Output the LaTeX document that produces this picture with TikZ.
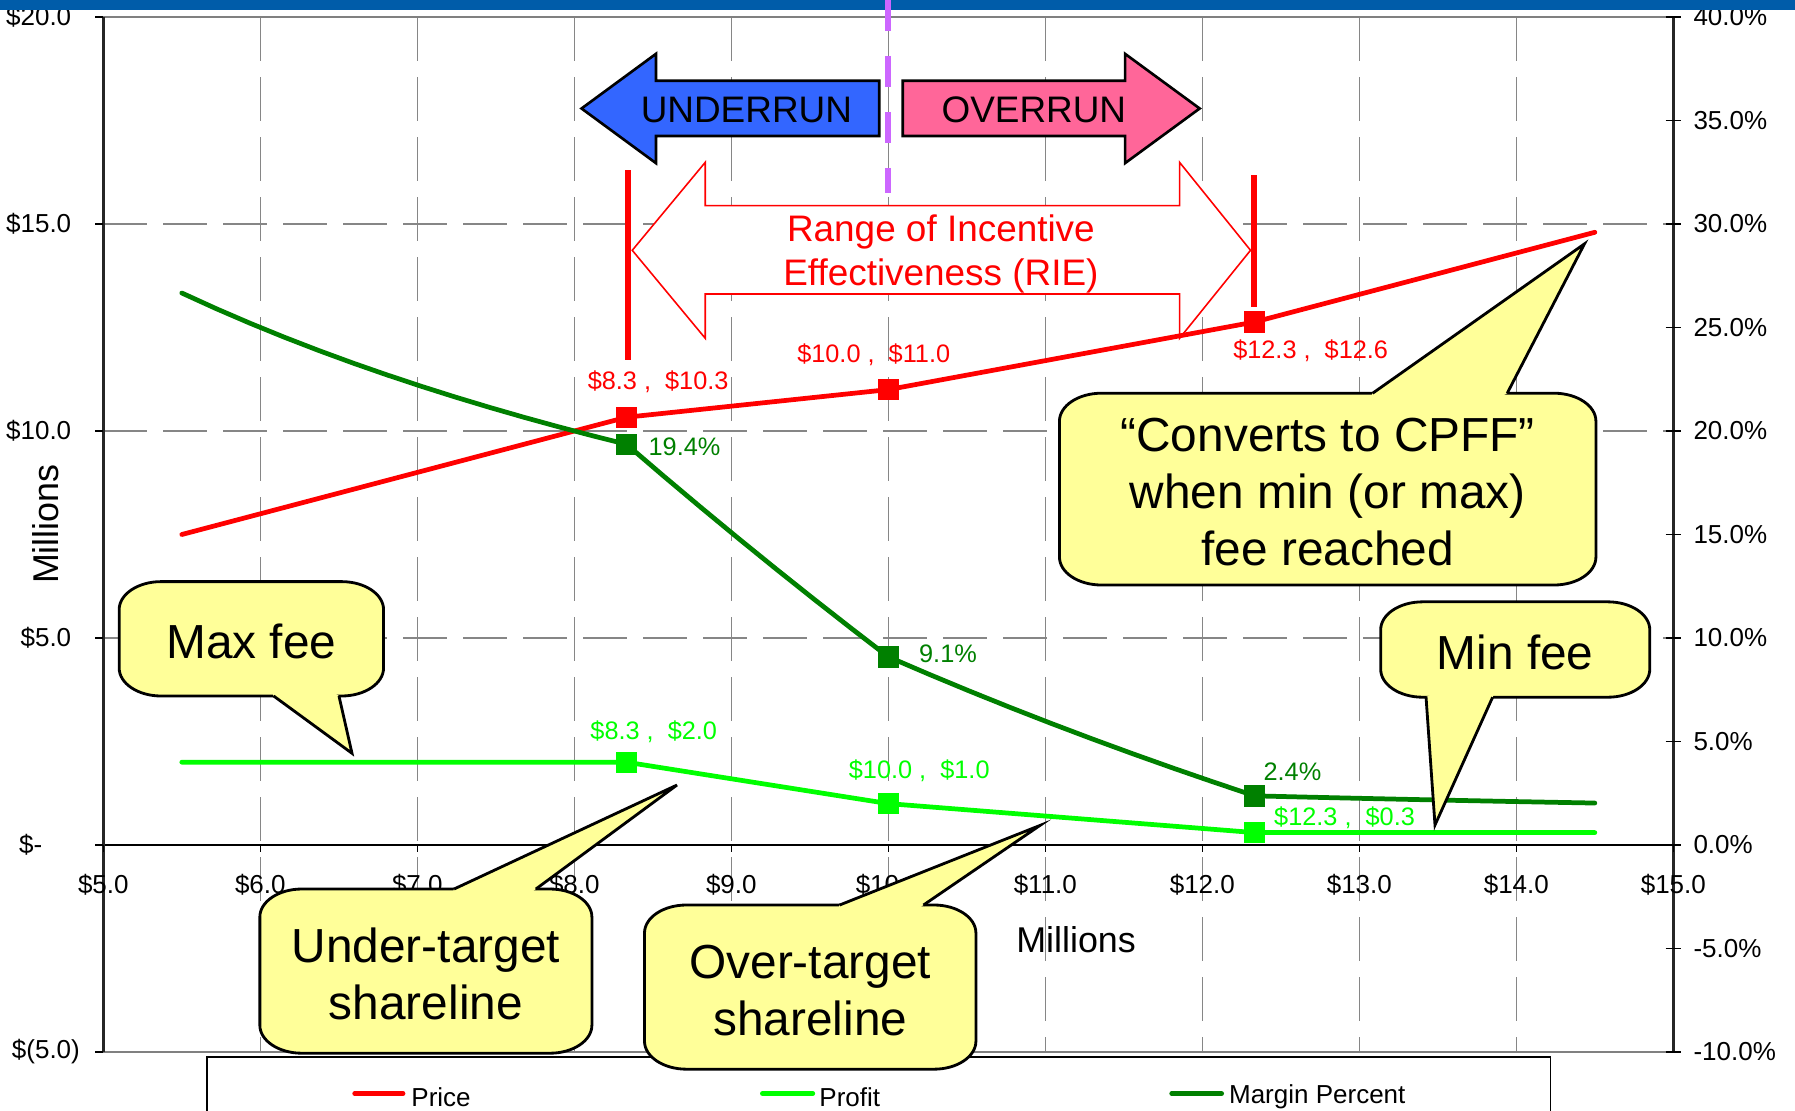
\documentclass[tikz,border=0pt]{standalone}
\usepackage{fontspec}
\setmainfont{Liberation Sans}
\usepackage{tikz}
\usetikzlibrary{calc, positioning}
\definecolor{pricered}{RGB}{255,0,0}
\definecolor{profitgreen}{RGB}{0,255,0}
\definecolor{margingreen}{RGB}{0,128,0}
\definecolor{gridgray}{RGB}{134,134,134}
\definecolor{underblue}{RGB}{51,102,255}
\definecolor{overpink}{RGB}{255,102,153}
\definecolor{bubblefill}{RGB}{255,255,153}
\definecolor{splitviolet}{RGB}{204,102,255}
\definecolor{barblue}{RGB}{0,92,169}
\newcommand{\fsz}[2]{\fontsize{#1}{#2}\selectfont}
% yellow callout: #1 sw, #2 ne, #3/#4 pointer base, #5 pointer tip
\newcommand{\bubble}[5]{%
  \coordinate (bc) at ($(#1)!0.5!(#2)$);
  \filldraw[fill=bubblefill, draw=black, line width=0.8pt]
    ($(#1)+(0.42cm,0)$) -- ($(#2|-#1)+(-0.42cm,0)$)
    arc[start angle=-90, end angle=0, x radius=0.42cm, y radius=0.28cm]
    -- ($(#2)+(0,-0.28cm)$)
    arc[start angle=0, end angle=90, x radius=0.42cm, y radius=0.28cm]
    -- ($(#1|-#2)+(0.42cm,0)$)
    arc[start angle=90, end angle=180, x radius=0.42cm, y radius=0.28cm]
    -- ($(#1)+(0,0.28cm)$)
    arc[start angle=180, end angle=270, x radius=0.42cm, y radius=0.28cm]
    -- cycle;
  \fill[bubblefill] (#3) -- (#5) -- (#4) -- ($(#4)!0.07cm!(bc)$) -- ($(#3)!0.07cm!(bc)$) -- cycle;
  \draw[black, line width=0.8pt, line join=miter] (#3) -- (#5) -- (#4);
}

\begin{document}
\begin{tikzpicture}[x=1.57cm, y=0.414cm,
    grid/.style={gridgray, line width=0.35pt, dash pattern=on 0.44cm off 0.16cm},
    ticklbl/.style={font=\fsz{7.4}{9}, inner sep=0pt},
    datalbl/.style={font=\fsz{7.2}{8.5}, inner sep=0pt},
    series/.style={line width=1.35pt, line join=round, line cap=round},
    datapt/.style={rectangle, inner sep=0pt, minimum size=0.2cm},
    bubbletext/.style={font=\fsz{13.6}{16.2}, align=center, inner sep=0pt, yshift=-0.03cm},
    arrowtext/.style={font=\fsz{10.5}{12.4}, align=center, inner sep=0pt}]
  \useasboundingbox (4.342,-6.401) rectangle (15.775,20.411);
  % grid
  \foreach \u in {6,...,14}
    \draw[grid] (\u,20) -- (\u,-5);
  \foreach \v in {5,10,15}
    \draw[grid] (5,\v) -- (15,\v);
  % frame and axes
  \draw[gray, line width=0.75pt] (5,20) -- (15,20);
  \draw[gray, line width=0.75pt] (5,-5) -- (15,-5);
  \draw[black, line width=0.4pt] (5,0) -- (15,0);
  \draw[black!85, line width=0.75pt] (5,20) -- (5,-5);
  \draw[black!85, line width=0.75pt] (15,20) -- (15,-5);
  \foreach \v in {-5,0,...,20}
    \draw[black, line width=0.4pt] (5,\v) -- ++(-0.083cm,0);
  \foreach \v in {-5,-2.5,...,20}
    \draw[black, line width=0.4pt] (15,\v) ++(-0.077cm,0) -- ++(0.15cm,0);
  \foreach \u in {5,...,15}
    \draw[black, line width=0.4pt] (\u,0) -- ++(0,-0.073cm);
  % tick labels
  \foreach \v/\t in {20/{\$20.0}, 15/{\$15.0}, 10/{\$10.0}, 5/{\$5.0}, 0/{\$-\phantom{00}}, -5/{\$(5.0\rlap{)}}}
    \node[ticklbl, anchor=east] (yl\v) at (4.80,\v) {\t};
  \foreach \v/\t in {20/40.0, 17.5/35.0, 15/30.0, 12.5/25.0, 10/20.0, 7.5/15.0, 5/10.0, 2.5/5.0, 0/0.0, -2.5/-5.0, -5/-10.0}
    \node[ticklbl, anchor=west] (pl\v) at (15.124,\v) {\t\%};
  \foreach \u in {5,...,15}
    \node[ticklbl] (xl\u) at (\u,-0.97) {\$\u.0};
  \node[font=\fsz{10.2}{12}, rotate=90] (ytitle) at (4.634,7.75) {Millions};
  \node[font=\fsz{10.2}{12}] (xtitle) at (11.196,-2.29) {Millions};
  % range of incentive effectiveness
  \filldraw[fill=white, draw=pricered, line width=0.45pt]
    (8.369,14.365) -- (8.834,16.49) -- (8.834,15.442) -- (11.855,15.442) -- (11.855,16.49)
    -- (12.307,14.365) -- (11.855,12.239) -- (11.855,13.309) -- (8.834,13.309) -- (8.834,12.239) -- cycle;
  \node[arrowtext, text=pricered] (rie) at (10.335,14.27) {Range of Incentive\\Effectiveness (RIE)};
  \draw[pricered, line width=1.6pt] (8.342,16.30) -- (8.342,11.715);
  \draw[pricered, line width=1.6pt] (12.33,16.18) -- (12.33,12.99);
  % underrun / overrun
  \filldraw[fill=underblue, draw=black, line width=0.75pt]
    (8.046,17.79) -- (8.520,19.11) -- (8.520,18.46) -- (9.942,18.46) -- (9.942,17.126)
    -- (8.520,17.126) -- (8.520,16.47) -- cycle;
  \filldraw[fill=overpink, draw=black, line width=0.75pt]
    (11.983,17.79) -- (11.508,19.11) -- (11.508,18.46) -- (10.092,18.46) -- (10.092,17.126)
    -- (11.508,17.126) -- (11.508,16.47) -- cycle;
  \node[arrowtext] (under) at (9.096,17.75) {UNDERRUN};
  \node[arrowtext] (over) at (10.927,17.75) {OVERRUN};
  % price
  \coordinate (pr0) at (5.5,7.5);
  \coordinate (pr4) at (14.5,14.8);
  \node[datapt] (pr1) at (8.333,10.333) {};
  \node[datapt] (pr2) at (10,11) {};
  \node[datapt] (pr3) at (12.333,12.633) {};
  \draw[series, pricered] (pr0) -- (pr1.center) -- (pr2.center) -- (pr3.center) -- (pr4);
  % profit
  \coordinate (pf0) at (5.5,2);
  \coordinate (pf4) at (14.5,0.3);
  \node[datapt] (pf1) at (8.333,2) {};
  \node[datapt] (pf2) at (10,1) {};
  \node[datapt] (pf3) at (12.333,0.3) {};
  \draw[series, profitgreen] (pf0) -- (pf1.center) -- (pf2.center) -- (pf3.center) -- (pf4);
  % margin percent = fee / price
  \node[datapt] (mg1) at (8.333,9.677) {};
  \node[datapt] (mg2) at (10,4.545) {};
  \node[datapt] (mg3) at (12.333,1.187) {};
  \draw[series, margingreen] plot[domain=5.5:8.333, samples=14] (\x,{100/(\x+2)})
    -- plot[domain=8.333:10, samples=8] (\x,{50*(2-0.6*(\x-8.333))/(\x+2-0.6*(\x-8.333))})
    -- plot[domain=10:12.333, samples=10] (\x,{50*(1-0.3*(\x-10))/(\x+1-0.3*(\x-10))})
    -- plot[domain=12.333:14.5, samples=8] (\x,{15/(\x+0.3)});
  \foreach \p in {pr1,pr2,pr3}
    \fill[pricered] (\p.south west) rectangle (\p.north east);
  \foreach \p in {pf1,pf2,pf3}
    \fill[profitgreen] (\p.south west) rectangle (\p.north east);
  \foreach \p in {mg1,mg2,mg3}
    \fill[margingreen] (\p.south west) rectangle (\p.north east);
  % data labels
  \node[datalbl, text=pricered] (lp1) at (8.534,11.20) {\$8.3 ,\ \ \$10.3};
  \node[datalbl, text=pricered] (lp2) at (9.907,11.83) {\$10.0 ,\ \ \$11.0};
  \node[datalbl, text=pricered] (lp3) at (12.69,11.93) {\$12.3 ,\ \ \$12.6};
  \node[datalbl, text=margingreen] (lm1) at (8.702,9.62) {19.4\%};
  \node[datalbl, text=margingreen] (lm2) at (10.38,4.62) {9.1\%};
  \node[datalbl, text=margingreen] (lm3) at (12.574,1.76) {2.4\%};
  \node[datalbl, text=profitgreen] (lf1) at (8.506,2.738) {\$8.3 ,\ \ \$2.0};
  \node[datalbl, text=profitgreen] (lf2) at (10.197,1.80) {\$10.0 ,\ \ \$1.0};
  \node[datalbl, text=profitgreen] (lf3) at (12.906,0.654) {\$12.3 ,\ \ \$0.3};
  % legend
  \filldraw[fill=white, draw=black, line width=0.4pt] (5.661,-6.6) -- (5.661,-5.121) -- (14.218,-5.121) -- (14.218,-6.6);
  \draw[series, pricered] (6.601,-6.005) -- (6.909,-6.005);
  \node[ticklbl, anchor=west] (lgprice) at (6.958,-6.09) {Price};
  \draw[series, profitgreen] (9.198,-6.005) -- (9.519,-6.005);
  \node[ticklbl, anchor=west] (lgprofit) at (9.557,-6.09) {Profit};
  \draw[series, margingreen] (11.805,-6.005) -- (12.123,-6.005);
  \node[ticklbl, anchor=west] (lgmargin) at (12.166,-6.09) {Margin Percent};
  % callouts
  \coordinate (mfsw) at (5.101,3.599);   \coordinate (mfne) at (6.785,6.362);
  \coordinate (mfb1) at (6.085,3.599);   \coordinate (mfb2) at (6.501,3.599);
  \coordinate (mftip) at (6.584,2.215);
  \bubble{mfsw}{mfne}{mfb1}{mfb2}{mftip}
  \node[bubbletext] (maxfee) at ($(mfsw)!0.5!(mfne)$) {Max fee};
  \coordinate (utsw) at (5.997,-5.029);  \coordinate (utne) at (8.112,-1.063);
  \coordinate (utb1) at (7.234,-1.063);  \coordinate (utb2) at (7.755,-1.063);
  \coordinate (uttip) at (8.654,1.449);
  \bubble{utsw}{utne}{utb1}{utb2}{uttip}
  \node[bubbletext] (undertgt) at ($(utsw)!0.5!(utne)$) {Under-target\\shareline};
  \coordinate (otsw) at (8.447,-5.415);  \coordinate (otne) at (10.558,-1.449);
  \coordinate (otb1) at (9.690,-1.449);  \coordinate (otb2) at (10.224,-1.449);
  \coordinate (ottip) at (10.966,0.473);
  \bubble{otsw}{otne}{otb1}{otb2}{ottip}
  \node[bubbletext] (overtgt) at ($(otsw)!0.5!(otne)$) {Over-target\\shareline};
  \coordinate (cvsw) at (11.09,6.28);    \coordinate (cvne) at (14.507,10.913);
  \coordinate (cvb1) at (13.085,10.913); \coordinate (cvb2) at (13.942,10.913);
  \coordinate (cvtip) at (14.434,14.52);
  \bubble{cvsw}{cvne}{cvb1}{cvb2}{cvtip}
  \node[bubbletext] (cpff) at ($(cvsw)!0.5!(cvne)$) {“Converts to CPFF”\\when min (or max)\\fee reached};
  \coordinate (mnsw) at (13.136,3.57);   \coordinate (mnne) at (14.85,5.874);
  \coordinate (mnb1) at (13.425,3.57);   \coordinate (mnb2) at (13.849,3.57);
  \coordinate (mntip) at (13.482,0.483);
  \bubble{mnsw}{mnne}{mnb1}{mnb2}{mntip}
  \node[bubbletext] (minfee) at ($(mnsw)!0.5!(mnne)$) {Min fee};
  % top bar and dividing line
  \fill[barblue] (4.342,20.169) rectangle (15.775,20.411);
  \coordinate (splittop) at (10,20.411);
  \coordinate (splitend) at (10,15.75);
  \draw[splitviolet, line width=1.7pt, dash pattern=on 0.31cm off 0.25cm] (splittop) -- (splitend);
\end{tikzpicture}
\end{document}
